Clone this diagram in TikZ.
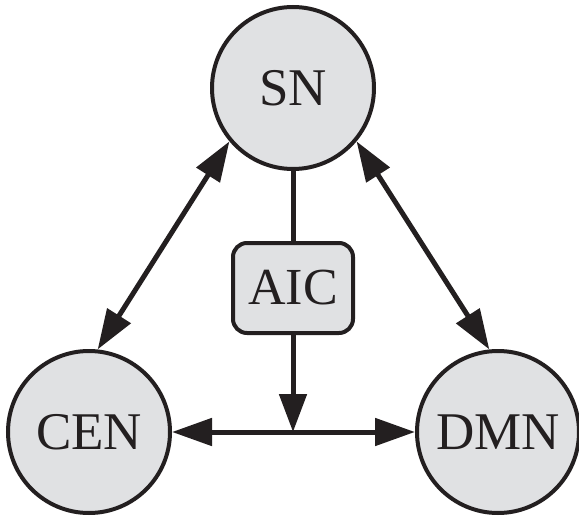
\documentclass[tikz,border=0pt]{standalone}
\usepackage{fontspec}
\setmainfont{Liberation Serif}
\usetikzlibrary{arrows.meta}
\definecolor{ink}{HTML}{231F20}
\definecolor{fillg}{HTML}{E0E1E3}
\begin{document}
\begin{tikzpicture}[x=1pt,y=-1pt,
  net/.style={circle,draw=ink,fill=fillg,line width=4pt,minimum size=162pt,inner sep=0pt,font=\fontsize{53}{60}\selectfont,text=ink},
  hub/.style={rectangle,rounded corners=14pt,draw=ink,fill=fillg,line width=4pt,minimum width=120pt,minimum height=90pt,inner sep=0pt,font=\fontsize{52}{60}\selectfont,text=ink},
  conn/.style={draw=ink,line width=5pt},
  tip/.style={Triangle[length=40pt,width=27pt]}]
\useasboundingbox (0,0) rectangle (579,519);
\node[net] (SN) at (293,88) {SN};
\node[net] (CEN) at (89,432) {CEN};
\node[net] (DMN) at (498,432) {DMN};
\node[hub] (AIC) at (293,288) {AIC};
\coordinate (J) at (293,432);
\draw[conn,{Triangle[length=40pt,width=27pt]}-{Triangle[length=40pt,width=27pt]}] (SN.220) -- (CEN.84);
\draw[conn,{Triangle[length=40pt,width=27pt]}-{Triangle[length=40pt,width=27pt]}] (SN.320) -- (DMN.96);
\draw[conn,{Triangle[length=40pt,width=27pt]}-{Triangle[length=40pt,width=27pt]}] (CEN.east) -- (DMN.west);
\draw[conn] (SN.south) -- (AIC.north);
\draw[conn,-{Triangle[length=38pt,width=27pt]}] (AIC.south) -- (J);
\end{tikzpicture}
\end{document}
